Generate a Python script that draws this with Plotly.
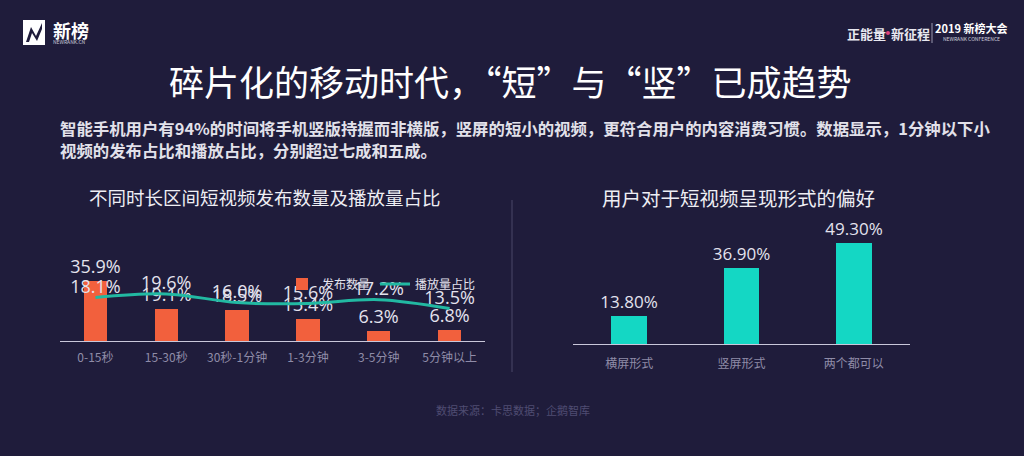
import plotly.graph_objects as go

# ---- data ----
duration_cats = ["0-15秒", "15-30秒", "30秒-1分钟", "1-3分钟", "3-5分钟", "5分钟以上"]
publish_share = [35.9, 19.1, 18.5, 13.4, 6.3, 6.8]      # 发布数量
play_share = [18.1, 19.6, 16.0, 15.6, 17.2, 13.5]       # 播放量占比
form_cats = ["横屏形式", "竖屏形式", "两个都可以"]
form_pref = [13.80, 36.90, 49.30]

W, H = 1024, 456
BG = "#1f1c3b"
FONT = "Noto Sans CJK SC"


def px(x):
    return x / W


def py(y):
    return 1 - y / H


fig = go.Figure()

fig.add_trace(go.Bar(
    x=duration_cats, y=publish_share, name="发布数量",
    marker=dict(color="#f2603d", line=dict(width=0)), width=0.33,
    texttemplate="%{y:.1f}%", textposition="outside", constraintext="none",
    textfont=dict(color="#e4e3ee", size=18, family="Open Sans"),
    cliponaxis=False, xaxis="x", yaxis="y",
))
fig.add_trace(go.Scatter(
    x=duration_cats, y=play_share, name="播放量占比",
    mode="lines+text", line=dict(color="#22b9a2", width=3, shape="spline"),
    text=[f"{v:.1f}%" for v in play_share], textposition="top center",
    textfont=dict(color="#e4e3ee", size=18, family="Open Sans"),
    cliponaxis=False, xaxis="x", yaxis="y2",
))
fig.add_trace(go.Bar(
    x=form_cats, y=form_pref, name="偏好", showlegend=False,
    marker=dict(color="#14d7c4", line=dict(width=0)), width=0.32,
    texttemplate="%{y:.2f}%", textposition="outside", constraintext="none",
    textfont=dict(color="#e4e3ee", size=17, family="Open Sans"),
    cliponaxis=False, xaxis="x3", yaxis="y3",
))

axis_common = dict(showgrid=False, zeroline=False, showline=True,
                   linecolor="#c9c7da", linewidth=1, ticks="",
                   tickfont=dict(color="#8f8ca8", size=12, family=FONT))

fig.update_layout(
    width=W, height=H, margin=dict(l=0, r=0, t=0, b=0),
    paper_bgcolor=BG, plot_bgcolor=BG,
    font=dict(family=FONT, color="#e4e3ee"),
    bargap=0,
    xaxis=dict(domain=[px(60), px(485)], anchor="y", ticklabelstandoff=6, **axis_common),
    yaxis=dict(domain=[py(341), py(261)], range=[0, 48], visible=False, anchor="x"),
    yaxis2=dict(domain=[py(341), py(261)], range=[0, 33.3], visible=False,
                overlaying="y", anchor="x"),
    xaxis3=dict(domain=[px(573), px(910)], anchor="y3", ticklabelstandoff=9, **axis_common),
    yaxis3=dict(domain=[py(344), py(231)], range=[0, 55], visible=False, anchor="x3"),
    legend=dict(orientation="h", x=px(282), y=py(284), xanchor="left", yanchor="middle",
                bgcolor="rgba(0,0,0,0)", font=dict(size=12, color="#e4e3ee", family=FONT),
                itemwidth=30, tracegroupgap=0),
)

ann = []


def text(x, y, s, size, color="#ffffff", xanchor="center", weight="normal", family=FONT):
    ann.append(dict(x=px(x), y=py(y), xref="paper", yref="paper", text=s, showarrow=False,
                    xanchor=xanchor, yanchor="middle",
                    font=dict(size=size, color=color, family=family, weight=weight)))


# title + intro
text(510, 80, "碎片化的移动时代，“短”与“竖”已成趋势", 35, "#ffffff")
text(58, 128, "智能手机用户有94%的时间将手机竖版持握而非横版，竖屏的短小的视频，更符合用户的内容消费习惯。数据显示，1分钟以下小",
     16.4, "#e2e1ea", xanchor="left", weight="bold")
text(58, 150, "视频的发布占比和播放占比，分别超过七成和五成。", 16.4, "#e2e1ea", xanchor="left", weight="bold")

# sub titles
text(265, 197, "不同时长区间短视频发布数量及播放量占比", 18.5, "#eeeef4")
text(738, 197, "用户对于短视频呈现形式的偏好", 19.5, "#eeeef4")

# footer
text(513, 410, "数据来源：卡思数据；企鹅智库", 11, "#4f4c72")

# logo text
text(51, 30, "新榜", 18, "#ffffff", xanchor="left", weight="bold")
text(51, 42, "NEWRANK.CN", 5, "#c8c8d8", xanchor="left")

# top-right
text(866, 33, "正能量", 13, "#e8e8f0", weight="bold")
text(910, 33, "新征程", 13, "#e8e8f0", weight="bold")
text(971, 28, "2019 新榜大会", 11, "#ffffff", weight="bold")
text(971, 39, "NEWRANK CONFERENCE", 5, "#d0d0dc")

fig.update_layout(annotations=ann)

shapes = [
    # divider
    dict(type="line", xref="paper", yref="paper", x0=px(512), x1=px(512), y0=py(200), y1=py(372),
         line=dict(color="#4a4768", width=1)),
    # logo square
    dict(type="rect", xref="paper", yref="paper", x0=px(23), x1=px(45), y0=py(45), y1=py(20),
         fillcolor="#ffffff", line=dict(width=0)),
    dict(type="path", xref="paper", yref="paper",
         path=f"M {px(26)} {py(42)} L {px(31)} {py(27)} L {px(36)} {py(36)} L {px(42)} {py(23)} "
              f"L {px(42)} {py(29)} L {px(37)} {py(41)} L {px(32)} {py(33)} L {px(29)} {py(42)} Z",
         fillcolor=BG, line=dict(width=0)),
    # top-right dot & separator
    dict(type="circle", xref="paper", yref="paper", x0=px(886), x1=px(890), y0=py(35), y1=py(31),
         fillcolor="#e0407a", line=dict(width=0)),
    dict(type="line", xref="paper", yref="paper", x0=px(932), x1=px(932), y0=py(23), y1=py(43),
         line=dict(color="#9a98b0", width=1)),
]
fig.update_layout(shapes=shapes)

fig.write_html("out.html", config={"displayModeBar": False},
               post_script="document.body.style.margin='0';document.body.style.overflow='hidden';")
